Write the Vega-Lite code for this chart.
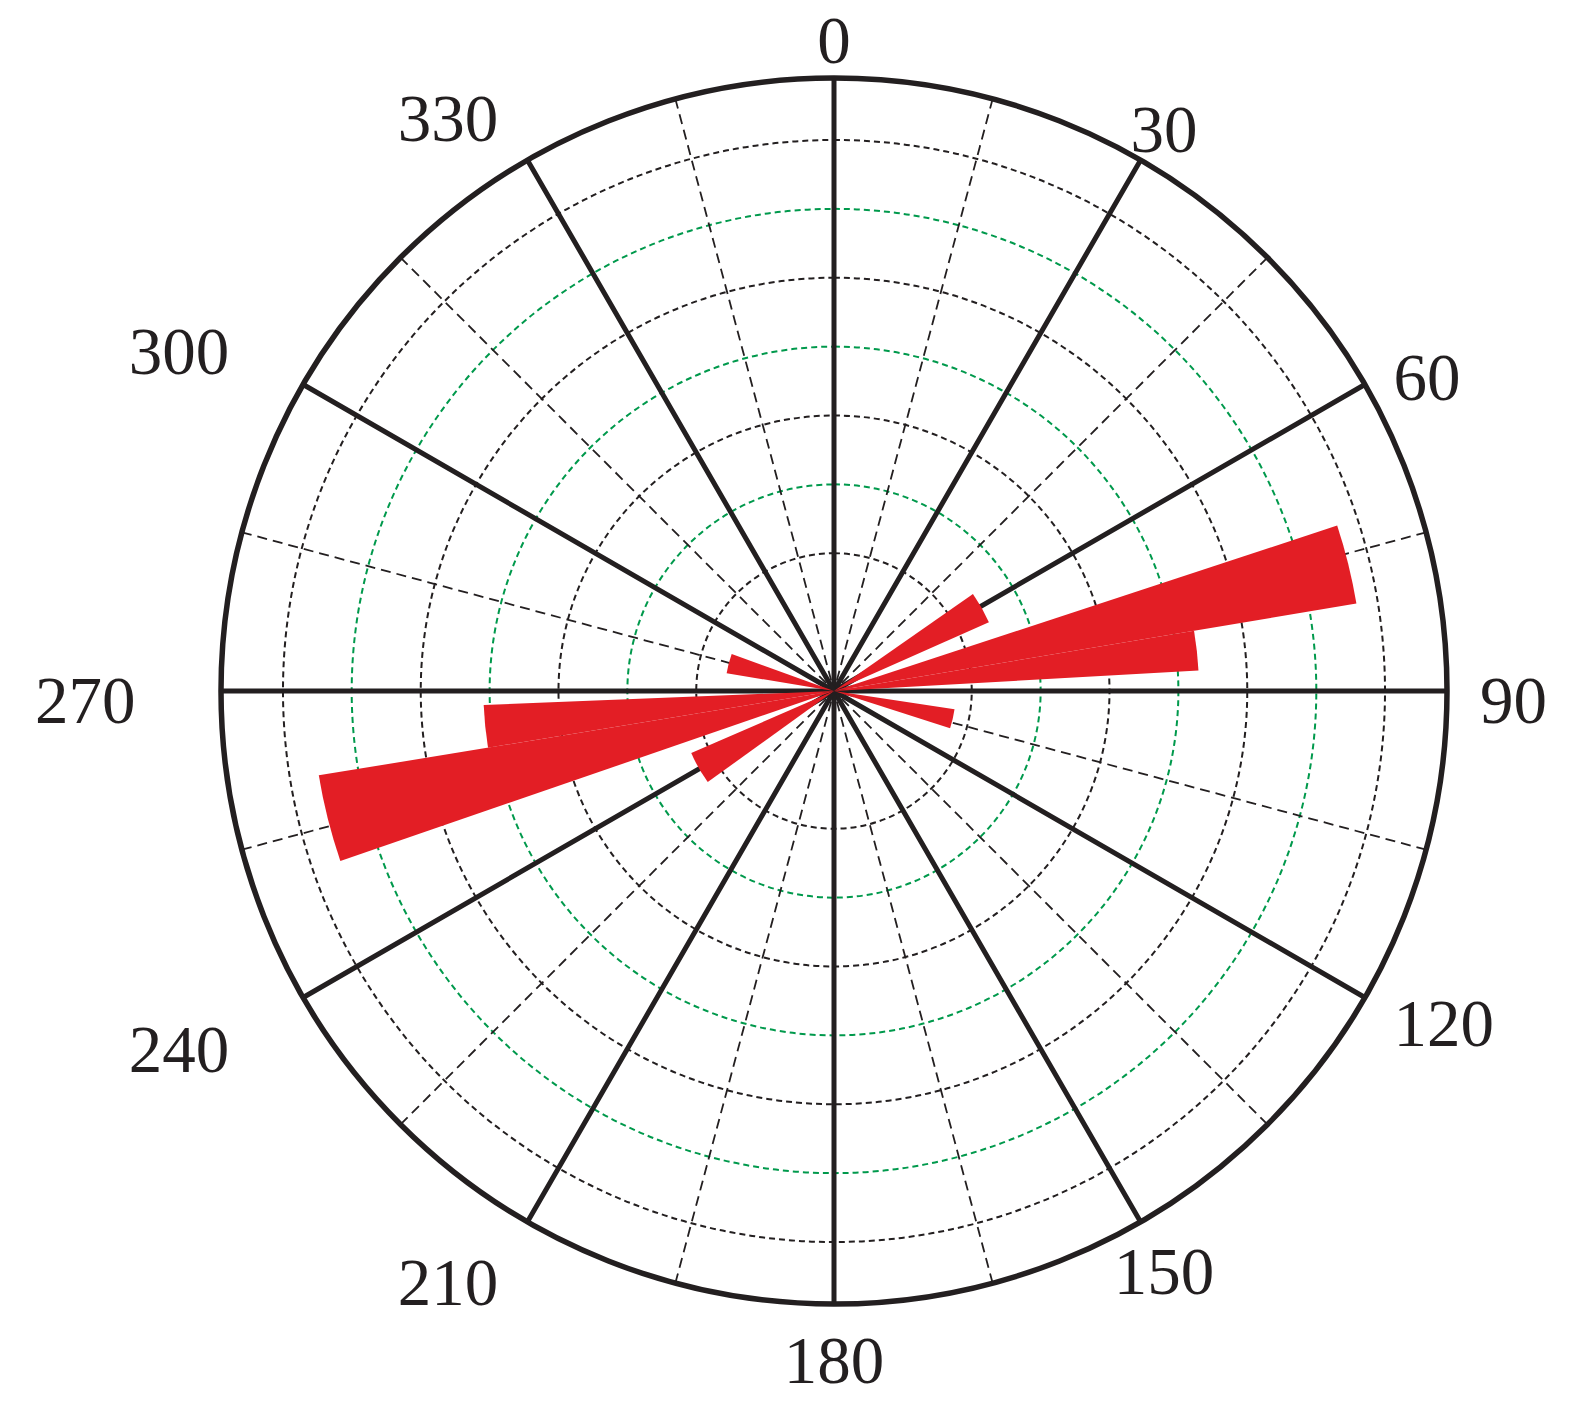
{
  "$schema": "https://vega.github.io/schema/vega-lite/v6.json",
  "width": 1400,
  "height": 1300,
  "autosize": "none",
  "padding": {"left": 134, "right": 45, "top": 41, "bottom": 87},
  "background": "white",
  "config": {"view": {"stroke": null}},
  "datasets": {
    "rings": [
      {"r": 2, "kind": "black"}, {"r": 3, "kind": "green"}, {"r": 4, "kind": "black"},
      {"r": 5, "kind": "green"}, {"r": 6, "kind": "black"}, {"r": 7, "kind": "green"},
      {"r": 8, "kind": "black"}
    ],
    "outer": [{"r": 8.9}],
    "spokes": [
      {"a": 0, "kind": "solid"}, {"a": 15, "kind": "dashed"}, {"a": 30, "kind": "solid"}, {"a": 45, "kind": "dashed"},
      {"a": 60, "kind": "solid"}, {"a": 75, "kind": "dashed"}, {"a": 90, "kind": "solid"}, {"a": 105, "kind": "dashed"},
      {"a": 120, "kind": "solid"}, {"a": 135, "kind": "dashed"}, {"a": 150, "kind": "solid"}, {"a": 165, "kind": "dashed"},
      {"a": 180, "kind": "solid"}, {"a": 195, "kind": "dashed"}, {"a": 210, "kind": "solid"}, {"a": 225, "kind": "dashed"},
      {"a": 240, "kind": "solid"}, {"a": 255, "kind": "dashed"}, {"a": 270, "kind": "solid"}, {"a": 285, "kind": "dashed"},
      {"a": 300, "kind": "solid"}, {"a": 315, "kind": "dashed"}, {"a": 330, "kind": "solid"}, {"a": 345, "kind": "dashed"}
    ],
    "petals": [
      {"t0": 55.1, "t1": 66.1, "r": 2.46},
      {"t0": 71.8, "t1": 80.5, "r": 7.69},
      {"t0": 80.5, "t1": 86.8, "r": 5.3},
      {"t0": 98.6, "t1": 107.8, "r": 1.77},
      {"t0": 234.2, "t1": 246.5, "r": 2.26},
      {"t0": 251, "t1": 260.7, "r": 7.58},
      {"t0": 260.7, "t1": 267.7, "r": 5.09},
      {"t0": 279.4, "t1": 289.9, "r": 1.58}
    ],
    "labels": [
      {"a": 0, "label": "0"}, {"a": 30, "label": "30"}, {"a": 60, "label": "60"}, {"a": 90, "label": "90"},
      {"a": 120, "label": "120"}, {"a": 150, "label": "150"}, {"a": 180, "label": "180"}, {"a": 210, "label": "210"},
      {"a": 240, "label": "240"}, {"a": 270, "label": "270"}, {"a": 300, "label": "300"}, {"a": 330, "label": "330"}
    ]
  },
  "layer": [
    {
      "data": {"name": "rings"},
      "mark": {"type": "arc", "theta": 0, "theta2": 6.2832, "filled": false, "strokeWidth": 2, "strokeDash": [6, 4]},
      "encoding": {
        "radius": {"field": "r", "type": "quantitative", "stack": null, "scale": {"type": "linear", "domain": [0, 8.9], "range": [0, 613], "zero": true}},
        "stroke": {"field": "kind", "type": "nominal", "scale": {"domain": ["black", "green"], "range": ["#231f20", "#00994c"]}, "legend": null}
      }
    },
    {
      "data": {"name": "spokes"},
      "transform": [{"filter": "datum.kind == 'dashed'"}],
      "mark": {"type": "arc", "filled": false, "stroke": "#231f20", "strokeWidth": 1.8, "strokeDash": [10, 6]},
      "encoding": {
        "theta": {"field": "a", "type": "quantitative", "stack": null, "scale": {"type": "linear", "domain": [0, 360], "range": [0, 6.283185307179586]}},
        "theta2": {"field": "a"},
        "radius": {"datum": 8.9, "type": "quantitative", "stack": null, "scale": {"type": "linear", "domain": [0, 8.9], "range": [0, 613], "zero": true}}
      }
    },
    {
      "data": {"name": "spokes"},
      "transform": [{"filter": "datum.kind == 'solid'"}],
      "mark": {"type": "arc", "filled": false, "stroke": "#231f20", "strokeWidth": 5},
      "encoding": {
        "theta": {"field": "a", "type": "quantitative", "stack": null, "scale": {"type": "linear", "domain": [0, 360], "range": [0, 6.283185307179586]}},
        "theta2": {"field": "a"},
        "radius": {"datum": 8.9, "type": "quantitative", "stack": null, "scale": {"type": "linear", "domain": [0, 8.9], "range": [0, 613], "zero": true}}
      }
    },
    {
      "data": {"name": "petals"},
      "mark": {"type": "arc", "fill": "#e31e25", "stroke": null},
      "encoding": {
        "theta": {"field": "t0", "type": "quantitative", "stack": null, "scale": {"type": "linear", "domain": [0, 360], "range": [0, 6.283185307179586]}},
        "theta2": {"field": "t1"},
        "radius": {"field": "r", "type": "quantitative", "stack": null, "scale": {"type": "linear", "domain": [0, 8.9], "range": [0, 613], "zero": true}}
      }
    },
    {
      "data": {"name": "outer"},
      "mark": {"type": "arc", "theta": 0, "theta2": 6.2832, "filled": false, "stroke": "#231f20", "strokeWidth": 5.5},
      "encoding": {
        "radius": {"field": "r", "type": "quantitative", "stack": null, "scale": {"type": "linear", "domain": [0, 8.9], "range": [0, 613], "zero": true}}
      }
    },
    {
      "data": {"name": "labels"},
      "transform": [{"filter": "datum.a == 0 || datum.a == 30 || datum.a == 150 || datum.a == 180"}],
      "mark": {"type": "text", "font": "Liberation Serif", "fontSize": 67, "fill": "#231f20", "align": "center", "baseline": "middle", "dy": 12},
      "encoding": {
        "theta": {"field": "a", "type": "quantitative", "stack": null, "scale": {"type": "linear", "domain": [0, 360], "range": [0, 6.283185307179586]}},
        "radius": {"datum": 9.58, "type": "quantitative", "scale": {"type": "linear", "domain": [0, 8.9], "range": [0, 613], "zero": true}},
        "text": {"field": "label"}
      }
    },
    {
      "data": {"name": "labels"},
      "transform": [{"filter": "datum.a == 60 || datum.a == 90 || datum.a == 120"}],
      "mark": {"type": "text", "font": "Liberation Serif", "fontSize": 67, "fill": "#231f20", "align": "left", "baseline": "middle", "dy": 12},
      "encoding": {
        "theta": {"field": "a", "type": "quantitative", "stack": null, "scale": {"type": "linear", "domain": [0, 360], "range": [0, 6.283185307179586]}},
        "radius": {"datum": 9.38, "type": "quantitative", "scale": {"type": "linear", "domain": [0, 8.9], "range": [0, 613], "zero": true}},
        "text": {"field": "label"}
      }
    },
    {
      "data": {"name": "labels"},
      "transform": [{"filter": "datum.a == 240 || datum.a == 270 || datum.a == 300"}],
      "mark": {"type": "text", "font": "Liberation Serif", "fontSize": 67, "fill": "#231f20", "align": "right", "baseline": "middle", "dy": 12},
      "encoding": {
        "theta": {"field": "a", "type": "quantitative", "stack": null, "scale": {"type": "linear", "domain": [0, 360], "range": [0, 6.283185307179586]}},
        "radius": {"datum": 10.14, "type": "quantitative", "scale": {"type": "linear", "domain": [0, 8.9], "range": [0, 613], "zero": true}},
        "text": {"field": "label"}
      }
    },
    {
      "data": {"name": "labels"},
      "transform": [{"filter": "datum.a == 210 || datum.a == 330"}],
      "mark": {"type": "text", "font": "Liberation Serif", "fontSize": 67, "fill": "#231f20", "align": "right", "baseline": "middle", "dy": 12},
      "encoding": {
        "theta": {"field": "a", "type": "quantitative", "stack": null, "scale": {"type": "linear", "domain": [0, 360], "range": [0, 6.283185307179586]}},
        "radius": {"datum": 9.75, "type": "quantitative", "scale": {"type": "linear", "domain": [0, 8.9], "range": [0, 613], "zero": true}},
        "text": {"field": "label"}
      }
    }
  ]
}
